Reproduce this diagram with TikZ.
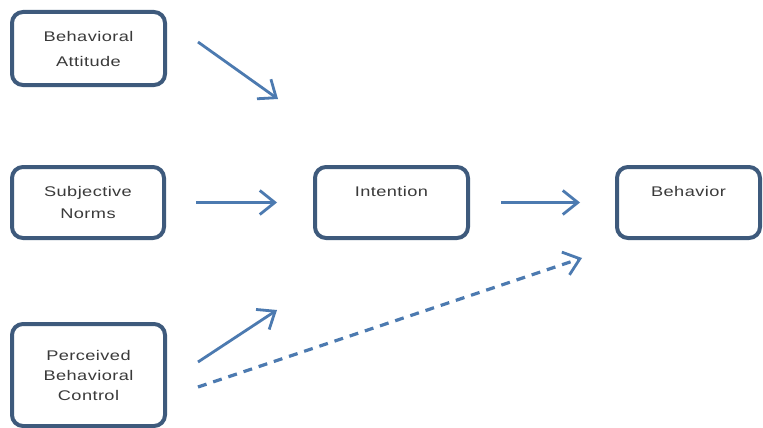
\documentclass[tikz,border=0pt]{standalone}
\usepackage{fontspec}
\setmainfont{Liberation Sans}[FakeStretch=1.3,LetterSpace=3]
\usetikzlibrary{arrows.meta}
\definecolor{boxline}{HTML}{3E5A7C}
\definecolor{arrowblue}{HTML}{4C7AB0}
\definecolor{txtgray}{HTML}{3A3A3A}
\tikzset{
  box/.style={draw=boxline, line width=4pt, rounded corners=11pt, fill=white,
    align=center, text=txtgray, inner sep=0pt,
    font=\fontsize{14}{22}\selectfont},
  arr/.style={draw=arrowblue, line width=2.8pt,
    -{Straight Barb[length=15pt,width=24pt,line width=2.8pt]}},
  dasharr/.style={arr, line width=3.2pt, dash pattern=on 9pt off 7pt}
}
\begin{document}
\begin{tikzpicture}[x=1pt,y=-1pt]
\useasboundingbox[fill=white] (0,0) rectangle (763,428);
\node[box, minimum width=153pt, minimum height=73pt] (att) at (88.5,48.5) {Behavioral\\[3pt]Attitude};
\node[box, minimum width=152pt, minimum height=71pt] (norms) at (88,202.5) {Subjective\\Norms};
\node[box, minimum width=153pt, minimum height=71pt, text depth=22pt] (intent) at (391.5,202.5) {Intention};
\node[box, minimum width=143pt, minimum height=71pt, text depth=22pt] (behav) at (688.5,202.5) {Behavior};
\node[box, minimum width=153pt, minimum height=102pt, font=\fontsize{14}{20}\selectfont] (pbc) at (88.5,375) {Perceived\\Behavioral\\Control};
\coordinate (a1s) at (198,42);
\coordinate (a1e) at (278,99);
\coordinate (a4s) at (198,362);
\coordinate (a4e) at (277,310);
\coordinate (a5s) at (198,387);
\coordinate (a5e) at (582,258);
\draw[arr] (a1s) -- (a1e);
\draw[arr] ([xshift=30pt]norms.east |- norms.center) -- ([xshift=-36pt]intent.west |- norms.center);
\draw[arr] ([xshift=31pt]intent.east) -- ([xshift=-35pt]behav.west);
\draw[arr] (a4s) -- (a4e);
\draw[dasharr] (a5s) -- (a5e);
\end{tikzpicture}
\end{document}
